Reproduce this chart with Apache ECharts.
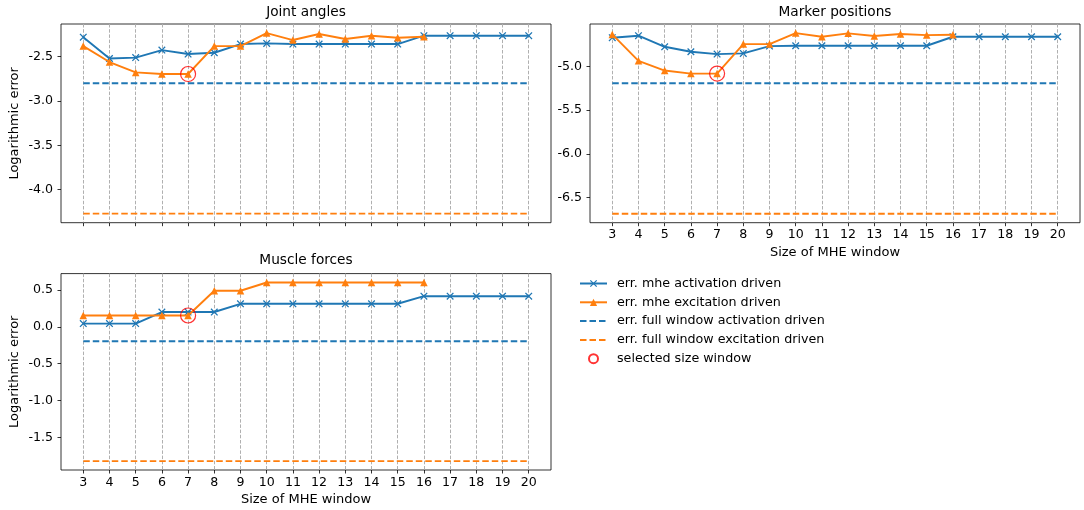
<!DOCTYPE html>
<html>
<head>
<meta charset="utf-8">
<script src="https://cdn.jsdelivr.net/npm/echarts@6/dist/echarts.min.js"></script>
<style>
  html, body { margin: 0; padding: 0; background: #fff; }
  #chart { width: 1084px; height: 510px; }
</style>
</head>
<body>
<div id="chart"></div>
<script>
// window sizes on the x axis
var windowSizes = [3, 4, 5, 6, 7, 8, 9, 10, 11, 12, 13, 14, 15, 16, 17, 18, 19, 20];
var excitationSizes = [3, 4, 5, 6, 7, 8, 9, 10, 11, 12, 13, 14, 15, 16];
var selectedSize = 7;

// Joint angles
var jointAct = [-2.28, -2.52, -2.51, -2.425, -2.47, -2.455, -2.357, -2.35, -2.357, -2.357, -2.357, -2.357, -2.357, -2.263, -2.263, -2.263, -2.263, -2.263];
var jointExc = [-2.38, -2.56, -2.677, -2.695, -2.695, -2.38, -2.38, -2.233, -2.312, -2.244, -2.30, -2.263, -2.286, -2.274];
var jointFullAct = -2.80;
var jointFullExc = -4.27;

// Marker positions
var markerAct = [-4.67, -4.647, -4.774, -4.831, -4.858, -4.85, -4.766, -4.762, -4.762, -4.762, -4.762, -4.762, -4.762, -4.659, -4.659, -4.659, -4.659, -4.659];
var markerExc = [-4.632, -4.935, -5.046, -5.081, -5.081, -4.743, -4.743, -4.617, -4.659, -4.62, -4.651, -4.628, -4.64, -4.636];
var markerFullAct = -5.192;
var markerFullExc = -6.686;

// Muscle forces
var muscleAct = [0.045, 0.045, 0.045, 0.202, 0.202, 0.202, 0.314, 0.314, 0.314, 0.314, 0.314, 0.314, 0.314, 0.417, 0.417, 0.417, 0.417, 0.417];
var muscleExc = [0.155, 0.155, 0.155, 0.155, 0.155, 0.491, 0.491, 0.603, 0.603, 0.603, 0.603, 0.603, 0.603, 0.603];
var muscleFullAct = -0.195;
var muscleFullExc = -1.823;

// y tick labels
var jointTicks = [-4.0, -3.5, -3.0, -2.5];
var markerTicks = [-6.5, -6.0, -5.5, -5.0];
var muscleTicks = [-1.5, -1.0, -0.5, 0.0, 0.5];

var BLUE = '#1f77b4';
var ORANGE = '#ff7f0e';
var FONT = 'DejaVu Sans';
var crossSymbol = 'path://M0,1.2L1.2,0L5,3.8L8.8,0L10,1.2L6.2,5L10,8.8L8.8,10L5,6.2L1.2,10L0,8.8L3.8,5Z';
var DASH = [6.5, 3];

var names = {
  act: 'err. mhe activation driven',
  exc: 'err. mhe excitation driven',
  fullAct: 'err. full window activation driven',
  fullExc: 'err. full window excitation driven',
  sel: 'selected size window'
};

function zip(xs, ys) {
  return xs.map(function (x, i) { return [x, ys[i]]; });
}

function xAxisFor(idx, showLabels) {
  return {
    type: 'value', gridIndex: idx, min: 2.15, max: 20.85,
    axisLine: { show: false, onZero: false },
    axisTick: { show: true, length: 3.5, customValues: windowSizes, lineStyle: { color: '#000', width: 0.8 } },
    axisLabel: { show: showLabels, customValues: windowSizes, margin: 6, color: '#000', fontSize: 12.6, fontFamily: FONT },
    splitLine: { show: true, lineStyle: { color: '#b0b0b0', width: 1, type: [3.5, 1.7] } },
    name: showLabels ? 'Size of MHE window' : '',
    nameLocation: 'middle', nameGap: 23,
    nameTextStyle: { color: '#000', fontSize: 13, fontFamily: FONT }
  };
}

function yAxisFor(idx, lo, hi, ticks, showName) {
  return {
    type: 'value', gridIndex: idx, min: lo, max: hi,
    axisLine: { show: false, onZero: false },
    axisTick: { show: true, length: 3.5, customValues: ticks, lineStyle: { color: '#000', width: 0.8 } },
    axisLabel: {
      customValues: ticks, margin: 8, color: '#000', fontSize: 12.6, fontFamily: FONT,
      formatter: function (v) { return v.toFixed(1); }
    },
    splitLine: { show: false },
    name: showName ? 'Logarithmic error' : '',
    nameLocation: 'middle', nameRotate: 90, nameGap: 40,
    nameTextStyle: { color: '#000', fontSize: 13, fontFamily: FONT }
  };
}

function seriesFor(idx, act, exc, fullAct, fullExc) {
  var selVal = exc[excitationSizes.indexOf(selectedSize)];
  return [
    {
      name: names.act, type: 'line', xAxisIndex: idx, yAxisIndex: idx,
      data: zip(windowSizes, act), symbol: crossSymbol, symbolSize: 7.5,
      lineStyle: { color: BLUE, width: 1.9 }, itemStyle: { color: BLUE },
      animation: false, z: 3
    },
    {
      name: names.exc, type: 'line', xAxisIndex: idx, yAxisIndex: idx,
      data: zip(excitationSizes, exc), symbol: 'triangle', symbolSize: 7.5,
      lineStyle: { color: ORANGE, width: 1.9 }, itemStyle: { color: ORANGE },
      animation: false, z: 4
    },
    {
      name: names.fullAct, type: 'line', xAxisIndex: idx, yAxisIndex: idx,
      data: [[windowSizes[0], fullAct], [windowSizes[windowSizes.length - 1], fullAct]],
      symbol: 'none', lineStyle: { color: BLUE, width: 1.9, type: DASH },
      itemStyle: { color: 'rgba(0,0,0,0)' }, animation: false, z: 5
    },
    {
      name: names.fullExc, type: 'line', xAxisIndex: idx, yAxisIndex: idx,
      data: [[windowSizes[0], fullExc], [windowSizes[windowSizes.length - 1], fullExc]],
      symbol: 'none', lineStyle: { color: ORANGE, width: 1.9, type: DASH },
      itemStyle: { color: 'rgba(0,0,0,0)' }, animation: false, z: 5
    },
    {
      name: names.sel, type: 'scatter', xAxisIndex: idx, yAxisIndex: idx,
      data: [[selectedSize, selVal]], symbol: 'circle', symbolSize: 15,
      itemStyle: { color: 'rgba(0,0,0,0)', borderColor: '#ff0000', borderWidth: 1.2 },
      animation: false, z: 6
    }
  ];
}

var myChart = echarts.init(document.getElementById('chart'));

var gridBase = { show: true, borderColor: '#000', borderWidth: 0.8, backgroundColor: 'transparent', containLabel: false };

option = {
  animation: false,
  textStyle: { fontFamily: FONT },
  title: [
    { text: 'Joint angles', left: 306, top: 5, textAlign: 'center', padding: 0,
      textStyle: { fontSize: 13.7, fontWeight: 'normal', color: '#000', fontFamily: FONT } },
    { text: 'Marker positions', left: 835, top: 5, textAlign: 'center', padding: 0,
      textStyle: { fontSize: 13.7, fontWeight: 'normal', color: '#000', fontFamily: FONT } },
    { text: 'Muscle forces', left: 306, top: 253, textAlign: 'center', padding: 0,
      textStyle: { fontSize: 13.7, fontWeight: 'normal', color: '#000', fontFamily: FONT } }
  ],
  legend: {
    orient: 'vertical', left: 579, top: 277, padding: 0,
    itemWidth: 27, itemHeight: 9, itemGap: 5.8,
    textStyle: { fontSize: 12.7, color: '#000', fontFamily: FONT, padding: [0, 0, 0, 5] },
    data: [names.act, names.exc, names.fullAct, names.fullExc, names.sel]
  },
  grid: [
    Object.assign({ left: 61, top: 24, width: 490, height: 198.7 }, gridBase),
    Object.assign({ left: 590, top: 24, width: 490, height: 198.7 }, gridBase),
    Object.assign({ left: 61, top: 273.6, width: 490, height: 196.4 }, gridBase)
  ],
  xAxis: [xAxisFor(0, false), xAxisFor(1, true), xAxisFor(2, true)],
  yAxis: [
    yAxisFor(0, -4.372, -2.131, jointTicks, true),
    yAxisFor(1, -6.789, -4.513, markerTicks, false),
    yAxisFor(2, -1.944, 0.724, muscleTicks, true)
  ],
  series: [].concat(
    seriesFor(0, jointAct, jointExc, jointFullAct, jointFullExc),
    seriesFor(1, markerAct, markerExc, markerFullAct, markerFullExc),
    seriesFor(2, muscleAct, muscleExc, muscleFullAct, muscleFullExc)
  )
};

if (option && typeof option === "object") {
  myChart.setOption(option, true);
}
</script>
</body>
</html>
